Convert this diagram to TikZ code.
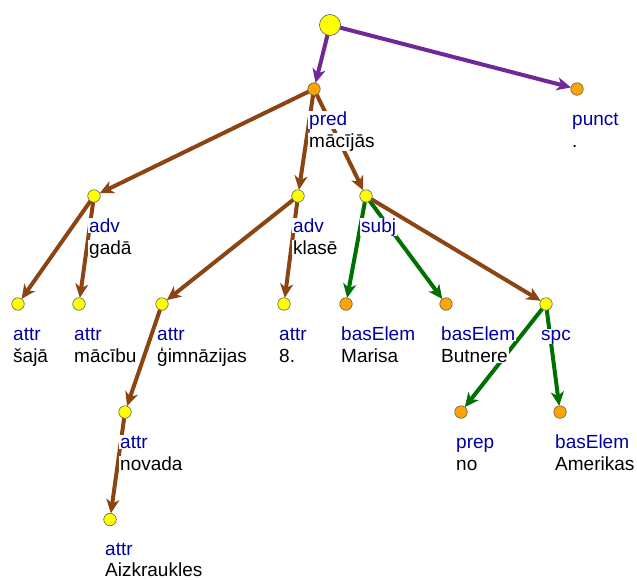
\documentclass[tikz,border=0pt]{standalone}
\usepackage{fontspec}
\setmainfont{Liberation Sans}
\usetikzlibrary{arrows.meta,backgrounds}
\definecolor{relblue}{RGB}{0,0,160}
\definecolor{tokorange}{RGB}{255,165,0}
\definecolor{tokyellow}{RGB}{255,255,0}
\definecolor{edgepurple}{RGB}{112,40,150}
\definecolor{edgebrown}{RGB}{139,69,19}
\definecolor{edgegreen}{RGB}{0,112,0}
\begin{document}
\begin{tikzpicture}[x=1pt,y=-1pt,
  tok/.style={circle, draw=black!65, line width=0.6pt, inner sep=0pt, outer sep=0pt, minimum size=12.5pt},
  yel/.style={tok, fill=tokyellow},
  org/.style={tok, fill=tokorange},
  rootnode/.style={tok, fill=tokyellow, minimum size=21pt},
  rel/.style={anchor=base west, text=relblue, fill=white, inner xsep=1pt, inner ysep=0.5pt, font=\fontsize{19}{22}\selectfont},
  word/.style={rel, text=black},
  edge/.style={line width=4pt, -{Stealth[length=14pt,width=13pt,inset=4pt]}}
]
\useasboundingbox (0,0) rectangle (637,579);

% tokens
\node[rootnode] (root) at (330,25) {};
\node[org] (pred) at (314,89) {};
\node[org] (punct) at (577,89) {};
\node[yel] (gada) at (94,196) {};
\node[yel] (klase) at (298,196) {};
\node[yel] (subj) at (366,196) {};
\node[yel] (saja) at (18,304) {};
\node[yel] (macibu) at (79,304) {};
\node[yel] (gimn) at (162,304) {};
\node[yel] (astoni) at (284,304) {};
\node[org] (marisa) at (346,304) {};
\node[org] (butnere) at (446,304) {};
\node[yel] (spc) at (546,304) {};
\node[yel] (novada) at (125,412) {};
\node[org] (no) at (461,412) {};
\node[org] (amerikas) at (560,412) {};
\node[yel] (aizkr) at (110,519.5) {};

% dependency arcs
\begin{scope}[on background layer]
\draw[edge, edgepurple] (root) -- (pred);
\draw[edge, edgepurple] (root) -- (punct);
\draw[edge, edgebrown] (pred) -- (gada);
\draw[edge, edgebrown] (pred) -- (klase);
\draw[edge, edgebrown] (pred) -- (subj);
\draw[edge, edgebrown] (gada) -- (saja);
\draw[edge, edgebrown] (gada) -- (macibu);
\draw[edge, edgebrown] (klase) -- (gimn);
\draw[edge, edgebrown] (klase) -- (astoni);
\draw[edge, edgebrown] (gimn) -- (novada);
\draw[edge, edgebrown] (novada) -- (aizkr);
\draw[edge, edgegreen] (subj) -- (marisa);
\draw[edge, edgegreen] (subj) -- (butnere);
\draw[edge, edgebrown] (subj) -- (spc);
\draw[edge, edgegreen] (spc) -- (no);
\draw[edge, edgegreen] (spc) -- (amerikas);
\end{scope}

% role and word labels
\node[rel] (predR) at (308,125) {pred};
\node[word] (predW) at (308,147) {mācījās};
\node[rel] (punctR) at (571,125) {punct};
\node[word] (punctW) at (571,147) {.};
\node[rel] (gadaR) at (88,232) {adv};
\node[word] (gadaW) at (88,254) {gadā};
\node[rel] (klaseR) at (292,232) {adv};
\node[word] (klaseW) at (292,254) {klasē};
\node[rel] (subjR) at (360,232) {subj};
\node[rel] (sajaR) at (12,340) {attr};
\node[word] (sajaW) at (12,362) {šajā};
\node[rel] (macibuR) at (73,340) {attr};
\node[word] (macibuW) at (73,362) {mācību};
\node[rel] (gimnR) at (156,340) {attr};
\node[word] (gimnW) at (156,362) {ģimnāzijas};
\node[rel] (astoniR) at (278,340) {attr};
\node[word] (astoniW) at (278,362) {8.};
\node[rel] (marisaR) at (340,340) {basElem};
\node[word] (marisaW) at (340,362) {Marisa};
\node[rel] (butnereR) at (440,340) {basElem};
\node[word] (butnereW) at (440,362) {Butnere};
\node[rel] (spcR) at (540,340) {spc};
\node[rel] (novadaR) at (119,448) {attr};
\node[word] (novadaW) at (119,470) {novada};
\node[rel] (noR) at (455,448) {prep};
\node[word] (noW) at (455,470) {no};
\node[rel] (amerikasR) at (554,448) {basElem};
\node[word] (amerikasW) at (554,470) {Amerikas};
\node[rel] (aizkrR) at (104,555) {attr};
\node[word] (aizkrW) at (104,576.5) {Aizkraukles};
\end{tikzpicture}
\end{document}
